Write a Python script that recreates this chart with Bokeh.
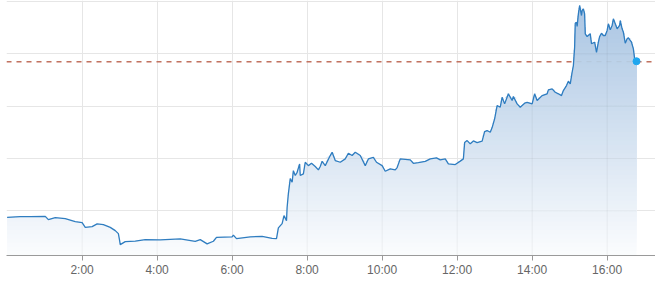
import numpy as np
from bokeh.plotting import figure
from bokeh.models import Range1d, FixedTicker, Span
from bokeh.embed import file_html
from bokeh.resources import INLINE

# minutes since 0:00
minutes = [0, 21, 37, 61, 66, 77, 93, 109, 120, 125, 136, 144, 154, 165, 173, 178, 180, 181, 189, 205,
           221, 245, 277, 301, 309, 320, 330, 335, 360, 362, 367, 389, 408, 424, 431, 434, 440, 443, 447, 448,
           450, 453, 456, 458, 461, 464, 468, 469, 474, 477, 482, 487, 493, 498, 501, 504, 509, 517, 520, 525,
           533, 541, 546, 552, 557, 565, 573, 578, 586, 591, 600, 605, 613, 621, 624, 629, 645, 650, 658, 669,
           677, 687, 693, 701, 706, 717, 725, 730, 732, 736, 741, 746, 752, 760, 764, 768, 773, 776, 780, 784,
           789, 792, 796, 802, 808, 810, 816, 821, 828, 832, 840, 844, 848, 856, 864, 866, 872, 877, 882, 887,
           890, 895, 898, 901, 904, 906, 908, 909, 911, 912, 914, 916, 919, 920, 922, 924, 925, 928, 933, 935,
           940, 943, 946, 948, 951, 954, 957, 960, 962, 965, 968, 970, 973, 976, 980, 981, 984, 986, 989, 992,
           994, 999, 1002, 1004, 1007]

prices = [47.938, 47.945, 47.945, 47.947, 47.916, 47.935, 47.925, 47.897, 47.887, 47.842, 47.849, 47.875, 47.868, 47.842, 47.811, 47.782, 47.715, 47.677, 47.706, 47.710,
          47.725, 47.722, 47.731, 47.708, 47.725, 47.684, 47.709, 47.747, 47.751, 47.768, 47.734, 47.751, 47.756, 47.737, 47.734, 47.837, 47.878, 47.954, 47.906, 48.034,
          48.164, 48.308, 48.273, 48.384, 48.337, 48.368, 48.448, 48.337, 48.353, 48.464, 48.432, 48.454, 48.423, 48.391, 48.423, 48.473, 48.432, 48.528, 48.559, 48.480,
          48.464, 48.496, 48.550, 48.528, 48.559, 48.528, 48.432, 48.496, 48.511, 48.464, 48.432, 48.378, 48.401, 48.391, 48.413, 48.496, 48.487, 48.454, 48.461, 48.473,
          48.496, 48.506, 48.487, 48.496, 48.448, 48.442, 48.475, 48.496, 48.652, 48.671, 48.640, 48.668, 48.652, 48.666, 48.757, 48.767, 48.751, 48.795, 48.879, 49.006,
          48.990, 49.085, 49.022, 49.118, 49.054, 49.092, 49.022, 48.990, 49.028, 49.037, 49.022, 49.118, 49.054, 49.101, 49.118, 49.156, 49.165, 49.133, 49.118, 49.101,
          49.149, 49.197, 49.238, 49.213, 49.324, 49.388, 49.563, 49.793, 49.802, 49.761, 49.882, 49.962, 49.866, 49.914, 49.930, 49.882, 49.691, 49.665, 49.691, 49.596,
          49.611, 49.515, 49.611, 49.665, 49.697, 49.675, 49.675, 49.723, 49.787, 49.729, 49.771, 49.835, 49.787, 49.739, 49.771, 49.818, 49.739, 49.707, 49.601, 49.643,
          49.653, 49.611, 49.548, 49.452, 49.429]

prev_close = 49.425

tick_minutes = [120, 240, 360, 480, 600, 720, 840, 960]
tick_labels = ["2:00", "4:00", "6:00", "8:00", "10:00", "12:00", "14:00", "16:00"]
grid_levels = [48.0, 48.5, 49.0, 49.5, 50.0]

Y_BOT, Y_TOP = 47.573, 50.0096

p = figure(width=655, height=282, output_backend="svg", toolbar_location=None,
           x_range=Range1d(-1.0, 1037.4), y_range=Range1d(Y_BOT, Y_TOP),
           min_border_left=6, min_border_right=0, min_border_top=0, min_border_bottom=27,
           background_fill_color="white", border_fill_color="white")
p.outline_line_color = None
p.yaxis.visible = False

p.xaxis.ticker = FixedTicker(ticks=tick_minutes)
p.xaxis.major_label_overrides = {m: lab for m, lab in zip(tick_minutes, tick_labels)}
p.xaxis.axis_line_color = "#9a9a9a"
p.xaxis.major_tick_line_color = "#9a9a9a"
p.xaxis.major_tick_out = 5
p.xaxis.major_tick_in = 0
p.xaxis.minor_tick_line_color = None
p.xaxis.major_label_text_font = "Liberation Sans"
p.xaxis.major_label_text_font_size = "12px"
p.xaxis.major_label_text_color = "#666666"
p.xaxis.major_label_standoff = 2

p.xgrid.ticker = FixedTicker(ticks=tick_minutes)
p.ygrid.ticker = FixedTicker(ticks=grid_levels)
p.grid.grid_line_color = "#e6e6e6"
p.grid.grid_line_width = 1

# previous close reference line
p.add_layout(Span(location=prev_close, dimension="width", line_color="#c8705c",
                  line_width=1.4, line_dash="5 5", level="underlay"))

# gradient area: opaque layers stacked from bottom, each reaching up to the price curve
x = np.array(minutes, dtype=float)
y = np.array(prices)
base = np.array([62, 124, 191], dtype=float)
white = np.array([255, 255, 255], dtype=float)
N = 60
edges = np.linspace(Y_BOT, Y_TOP, N + 1)
for k in range(N):
    lo = edges[k]
    if np.all(y <= lo):
        continue
    f = (0.5 * (edges[k] + edges[k + 1]) - Y_BOT) / (Y_TOP - Y_BOT)
    A = 0.02 + 0.43 * f
    c = white * (1 - A) + base * A
    col = "#%02x%02x%02x" % tuple(int(round(v)) for v in c)
    p.varea(x=x, y1=lo, y2=np.maximum(y, lo), fill_color=col)

# grid faintly visible through the translucent-looking fill
for g in grid_levels:
    gy = np.where(y > g, g, np.nan)
    p.line(x, gy, line_color="#000000", line_alpha=0.05, line_width=1)
tv = [t for t in tick_minutes if t <= minutes[-1]]
p.segment(x0=tv, y0=[Y_BOT] * len(tv), x1=tv, y1=list(np.interp(tv, x, y)),
          line_color="#000000", line_alpha=0.05, line_width=1)

# reference line faintly visible through the fill
p.add_layout(Span(location=prev_close, dimension="width", line_color="#8a8a8a",
                  line_width=1.2, line_dash="5 5", line_alpha=0.12))

p.line(x, y, line_color="#2f7dc0", line_width=1.3)
p.scatter([minutes[-1]], [prices[-1]], size=7, fill_color="#1ea7f0", line_color="#1ea7f0")

open("out.html", "w").write(file_html(p, INLINE))
